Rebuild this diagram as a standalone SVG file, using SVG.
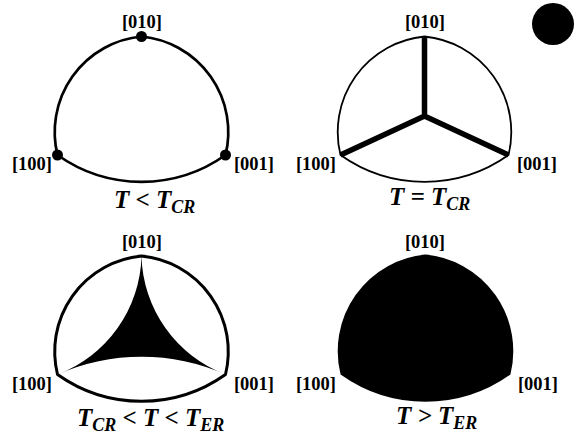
<svg xmlns="http://www.w3.org/2000/svg" xmlns:xlink="http://www.w3.org/1999/xlink" width="574" height="437" viewBox="0 0 574 437">
<style>
.lbl{font-family:"Liberation Serif","Times New Roman",serif;font-weight:bold;font-size:18.5px;fill:#000;text-anchor:middle}
.cap{font-family:"Liberation Serif","Times New Roman",serif;font-weight:bold;font-style:italic;font-size:25px;fill:#000}
.sub{font-size:18px}
.outline{fill:#fff;stroke:#000;stroke-linejoin:round}
</style>
<defs>
<path id="tri" d="M141.5,36.5 A96,96 0 0 0 57.5,155 A145,145 0 0 0 225.5,155 A96,96 0 0 0 141.5,36.5 Z"/>
<path id="inner" d="M141.5,36.5 A130,130 0 0 1 57.5,155 A207,207 0 0 1 225.5,155 A130,130 0 0 1 141.5,36.5 Z"/>
</defs>
<rect width="574" height="437" fill="#fff"/>

<g id="panel-below-cr">
<use xlink:href="#tri" class="outline" stroke-width="2.7"/>
<circle cx="141.5" cy="36.5" r="5.5"/>
<circle cx="57.5" cy="155" r="5.5"/>
<circle cx="225.5" cy="155" r="5.5"/>
<text class="lbl" x="142" y="28">[010]</text>
<text class="lbl" x="32" y="170">[100]</text>
<text class="lbl" x="254" y="170">[001]</text>
<text class="cap" x="114" y="208">T &lt; T<tspan class="sub" dy="5">CR</tspan></text>
</g>

<g id="panel-at-cr" transform="translate(283,0)">
<use xlink:href="#tri" class="outline" stroke-width="1.8"/>
<path d="M141.5,36.5 L141.5,116 M57.5,155 L141.5,116 L225.5,155" fill="none" stroke="#000" stroke-width="5.5" stroke-linejoin="miter"/>
<text class="lbl" x="142" y="28">[010]</text>
<text class="lbl" x="33" y="170">[100]</text>
<text class="lbl" x="254" y="170">[001]</text>
<text class="cap" x="106" y="205">T = T<tspan class="sub" dy="5">CR</tspan></text>
</g>

<g id="marker-dot">
<circle cx="553" cy="24" r="21"/>
</g>

<g id="panel-between" transform="translate(0,219.5)">
<use xlink:href="#tri" class="outline" stroke-width="3"/>
<use xlink:href="#inner" fill="#000"/>
<text class="lbl" x="142" y="28.5">[010]</text>
<text class="lbl" x="32" y="170.5">[100]</text>
<text class="lbl" x="254" y="170.5">[001]</text>
<text class="cap" x="77" y="206.5">T<tspan class="sub" dy="5">CR</tspan><tspan dy="-5"> &lt; T &lt; T</tspan><tspan class="sub" dy="5">ER</tspan></text>
</g>

<g id="panel-above-er" transform="translate(284,219)">
<use xlink:href="#tri" fill="#000" stroke="#000" stroke-width="2"/>
<text class="lbl" x="141" y="29">[010]</text>
<text class="lbl" x="32" y="171">[100]</text>
<text class="lbl" x="254" y="171">[001]</text>
<text class="cap" x="112" y="205">T &gt; T<tspan class="sub" dy="5">ER</tspan></text>
</g>
</svg>
